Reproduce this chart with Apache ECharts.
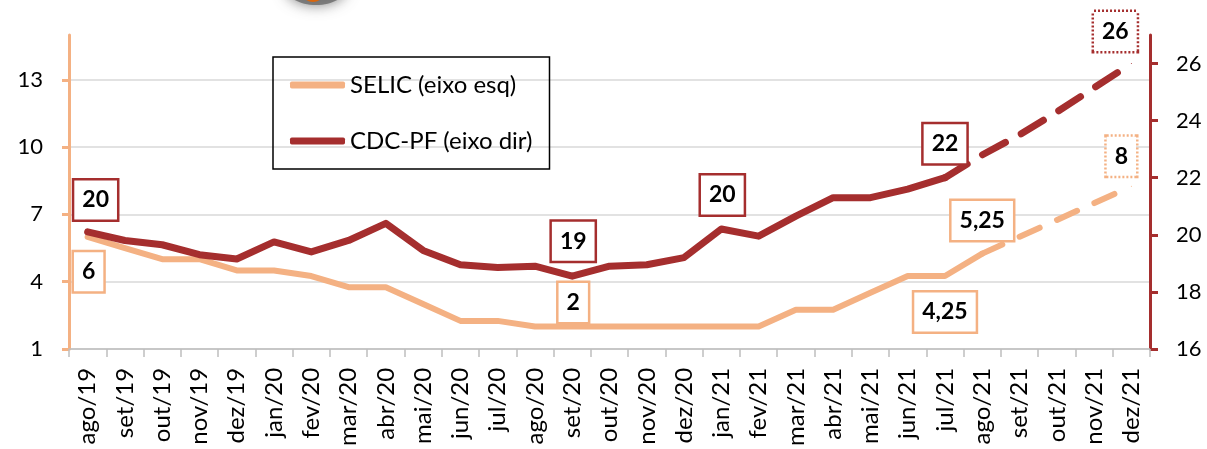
<!DOCTYPE html>
<html>
<head>
<meta charset="utf-8">
<script src="https://cdn.jsdelivr.net/npm/echarts@6/dist/echarts.min.js"></script>
<style>
html,body{margin:0;padding:0;background:#fff;}
#chart{width:1207px;height:449px;}
</style>
</head>
<body>
<div id="chart"></div>
<script>
// ---------- data ----------
const categories = ['ago/19','set/19','out/19','nov/19','dez/19','jan/20','fev/20','mar/20','abr/20','mai/20','jun/20','jul/20','ago/20','set/20','out/20','nov/20','dez/20','jan/21','fev/21','mar/21','abr/21','mai/21','jun/21','jul/21','ago/21','set/21','out/21','nov/21','dez/21'];
// SELIC (left axis): realised up to ago/21, projection afterwards
const selicActual = [6, 5.5, 5, 5, 4.5, 4.5, 4.25, 3.75, 3.75, 3, 2.25, 2.25, 2, 2, 2, 2, 2, 2, 2, 2.75, 2.75, 3.5, 4.25, 4.25, 5.25];
const selicProjection = [5.25, 6, 6.75, 7.5, 8.25]; // ago/21 .. dez/21
// CDC-PF (right axis): realised up to jul/21, projection afterwards
const cdcActual = [20.1, 19.8, 19.65, 19.3, 19.15, 19.75, 19.4, 19.8, 20.4, 19.45, 18.95, 18.85, 18.9, 18.55, 18.9, 18.95, 19.2, 20.2, 19.95, 20.65, 21.3, 21.3, 21.6, 22.0];
const cdcProjection = [22.0, 22.8, 23.5, 24.3, 25.15, 26.0]; // jul/21 .. dez/21
const leftTicks = [1, 4, 7, 10, 13];
const rightTicks = [16, 18, 20, 22, 24, 26];
// data-label texts by category index
const selicLabelText = {0: '6', 13: '2', 23: '4,25', 24: '5,25', 28: '8'};
const cdcLabelText = {0: '20', 13: '19', 17: '20', 23: '22', 28: '26'};

// ---------- styles ----------
const FONT = 'Lato, "Open Sans", sans-serif';
const SELIC_COLOR = '#F4B183';
const CDC_COLOR = '#A52E2E';
const selicLabelPos = {0: [1, 35], 13: [1, -24], 23: [0, 36], 24: [0, -33], 28: [-10, -30]};
const cdcLabelPos = {0: [8, -32], 13: [1, -35], 17: [1, -34], 23: [0, -34], 28: [-16, -32]};

function boxLabel(text, color, off, dotted) {
  return {
    show: true,
    position: 'inside',
    offset: off,
    formatter: text,
    fontFamily: FONT,
    fontSize: 23,
    fontWeight: 'bold',
    color: '#000',
    lineHeight: 26,
    backgroundColor: '#fff',
    borderColor: color,
    borderWidth: 2.5,
    borderType: dotted ? [2, 2] : 'solid',
    padding: [7, 8, 6, 8]
  };
}

function buildData(values, startIdx, labelText, labelPos, color, dottedIdx) {
  const out = categories.map(() => null);
  values.forEach((v, k) => {
    const i = startIdx + k;
    const item = {value: v};
    if (labelText[i] !== undefined) {
      item.label = boxLabel(labelText[i], color, labelPos[i], i === dottedIdx);
    }
    out[i] = item;
  });
  return out;
}

const cdcDashStart = cdcActual.length - 1;
const selicDashStart = selicActual.length - 1;

const chart = echarts.init(document.getElementById('chart'), null, {renderer: 'canvas'});
chart.setOption({
  animation: false,
  backgroundColor: '#fff',
  textStyle: {fontFamily: FONT},
  grid: {left: 69, right: 57, top: 35, bottom: 100, containLabel: false},
  legend: {
    left: 273, top: 57,
    orient: 'vertical',
    data: ['SELIC (eixo esq)', 'CDC-PF (eixo dir)'],
    icon: 'roundRect',
    borderColor: '#000',
    borderWidth: 1.5,
    padding: [15, 17, 15, 17],
    itemGap: 30,
    itemWidth: 55,
    itemHeight: 7,
    textStyle: {fontFamily: FONT, fontSize: 24, color: '#000', lineHeight: 26},
    selectedMode: false
  },
  graphic: [
    {type: 'ellipse', shape: {cx: 316, cy: -12, rx: 30, ry: 17}, z: -1,
      style: {fill: 'rgba(110,110,110,0.85)', shadowBlur: 14, shadowColor: 'rgba(90,90,90,0.9)'}},
    {type: 'ellipse', shape: {cx: 313, cy: -8, rx: 11, ry: 10}, z: 0, style: {fill: '#D8660E'}}
  ],
  xAxis: {
    type: 'category',
    data: categories,
    boundaryGap: true,
    axisLine: {lineStyle: {color: '#BFBFBF', width: 1.5}},
    axisTick: {show: true, length: 8, lineStyle: {color: '#BFBFBF', width: 1.5}},
    axisLabel: {rotate: 90, interval: 0, margin: 19, fontFamily: FONT, fontSize: 24, color: '#000'},
    splitLine: {show: false}
  },
  yAxis: [
    {
      type: 'value', position: 'left', min: 1, max: 15,
      axisLine: {show: true, lineStyle: {color: SELIC_COLOR, width: 3}},
      axisTick: {show: true, length: 7, customValues: leftTicks, lineStyle: {color: SELIC_COLOR, width: 3}},
      axisLabel: {customValues: leftTicks, margin: 26, fontFamily: FONT, fontSize: 22, color: '#000'},
      splitLine: {show: true, lineStyle: {color: '#D9D9D9', width: 1.5}}
    },
    {
      type: 'value', position: 'right', min: 16, max: 27,
      axisLine: {show: true, lineStyle: {color: CDC_COLOR, width: 3}},
      axisTick: {show: true, length: 8, customValues: rightTicks, lineStyle: {color: CDC_COLOR, width: 3}},
      axisLabel: {customValues: rightTicks, margin: 26, fontFamily: FONT, fontSize: 22, color: '#000'},
      splitLine: {show: false}
    }
  ],
  series: [
    {
      name: 'SELIC (eixo esq)', type: 'line', yAxisIndex: 0, z: 3,
      data: buildData(selicActual, 0, selicLabelText, selicLabelPos, SELIC_COLOR, -1),
      symbol: 'circle', symbolSize: 1, showSymbol: true,
      itemStyle: {color: SELIC_COLOR, borderWidth: 0},
      lineStyle: {color: SELIC_COLOR, width: 6, cap: 'round', join: 'round'}
    },
    {
      name: 'SELIC proj', type: 'line', yAxisIndex: 0, z: 3,
      data: buildData(selicProjection, selicDashStart, {28: selicLabelText[28]}, selicLabelPos, SELIC_COLOR, 28),
      symbol: 'circle', symbolSize: 1, showSymbol: true,
      itemStyle: {color: SELIC_COLOR, borderWidth: 0},
      lineStyle: {color: SELIC_COLOR, width: 6, type: [22, 19], cap: 'round'}
    },
    {
      name: 'CDC-PF (eixo dir)', type: 'line', yAxisIndex: 1, z: 4,
      data: buildData(cdcActual, 0, cdcLabelText, cdcLabelPos, CDC_COLOR, -1),
      symbol: 'circle', symbolSize: 1, showSymbol: true,
      itemStyle: {color: CDC_COLOR, borderWidth: 0},
      lineStyle: {color: CDC_COLOR, width: 7, cap: 'round', join: 'round'}
    },
    {
      name: 'CDC proj', type: 'line', yAxisIndex: 1, z: 4,
      data: buildData(cdcProjection, cdcDashStart, {28: cdcLabelText[28]}, cdcLabelPos, CDC_COLOR, 28),
      symbol: 'circle', symbolSize: 1, showSymbol: true,
      itemStyle: {color: CDC_COLOR, borderWidth: 0},
      lineStyle: {color: CDC_COLOR, width: 7, type: [26, 18], cap: 'round'}
    }
  ]
});
</script>
</body>
</html>
